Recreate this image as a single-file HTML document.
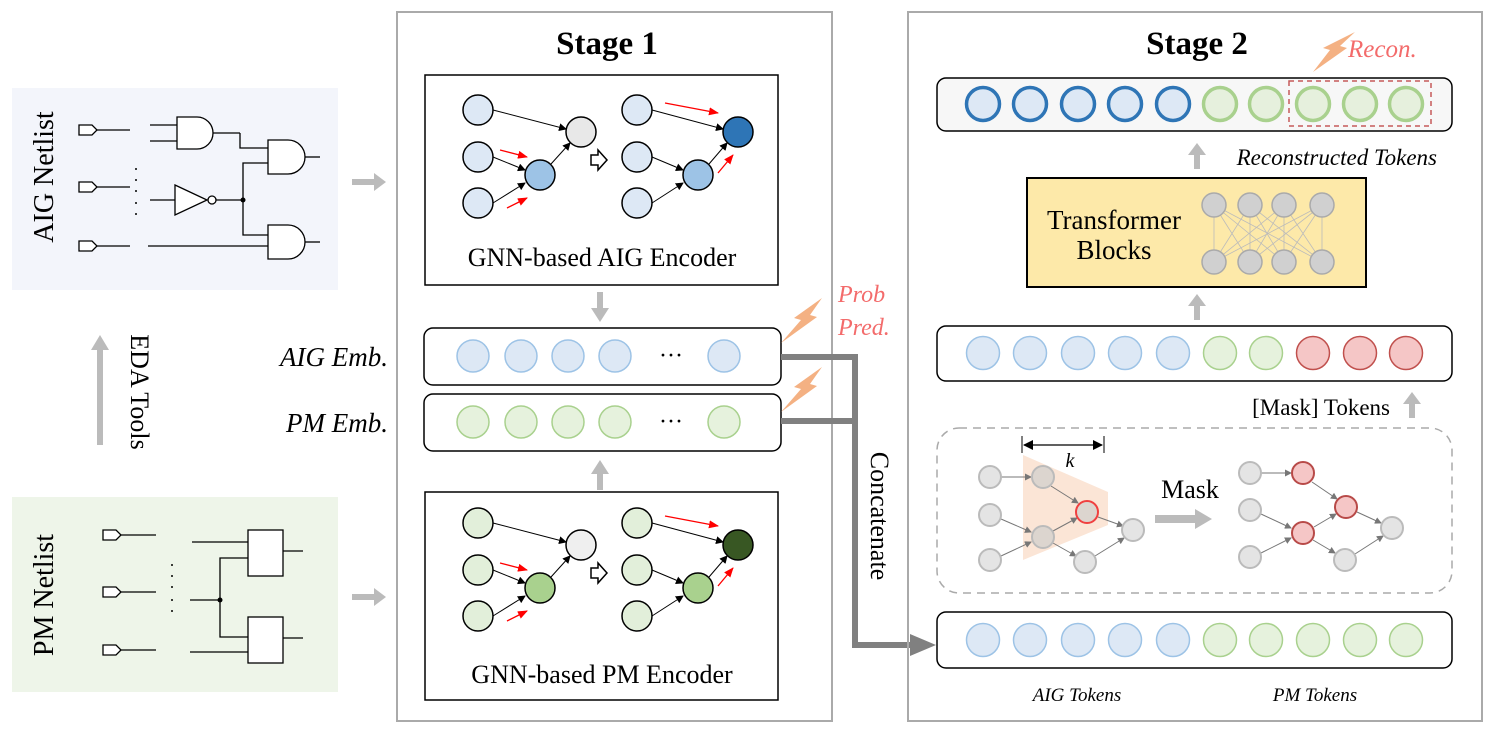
<!DOCTYPE html>
<html><head><meta charset="utf-8"><style>html,body{margin:0;padding:0;background:#fff}svg{display:block}text{font-family:"Liberation Serif",serif}</style></head>
<body>
<svg width="1494" height="734" viewBox="0 0 1494 734" xmlns="http://www.w3.org/2000/svg">
<defs>
<marker id="ab" markerWidth="8" markerHeight="8" refX="7" refY="4" orient="auto" markerUnits="userSpaceOnUse"><path d="M0,0 L8,4 L0,8 z" fill="#000"/></marker>
<marker id="ar" markerWidth="10" markerHeight="8" refX="9" refY="4" orient="auto" markerUnits="userSpaceOnUse"><path d="M0,0 L10,4 L0,8 z" fill="#f00"/></marker>
<marker id="ag" markerWidth="7" markerHeight="7" refX="6" refY="3.5" orient="auto" markerUnits="userSpaceOnUse"><path d="M0,0 L7,3.5 L0,7 z" fill="#777"/></marker>
<marker id="ak" markerWidth="10" markerHeight="10" refX="9" refY="5" orient="auto" markerUnits="userSpaceOnUse"><path d="M0,0 L10,5 L0,10 z" fill="#000"/></marker>
<marker id="ak2" markerWidth="10" markerHeight="10" refX="1" refY="5" orient="auto" markerUnits="userSpaceOnUse"><path d="M10,0 L0,5 L10,10 z" fill="#000"/></marker>
</defs>

<rect x="12" y="88" width="326" height="202" fill="#f3f5fb"/>
<rect x="12" y="497" width="326" height="195" fill="#eef5e9"/>
<text transform="translate(53,177) rotate(-90)" font-size="28" text-anchor="middle">AIG Netlist</text>
<text transform="translate(53,595) rotate(-90)" font-size="28" text-anchor="middle">PM Netlist</text>

<g stroke="#000" stroke-width="1.3" fill="#fff">
<path d="M79,125 h13 l5,5 l-5,5 h-13 z"/><line x1="97" y1="130" x2="130" y2="130"/>
<path d="M79,182 h13 l5,5 l-5,5 h-13 z"/><line x1="97" y1="187" x2="130" y2="187"/>
<path d="M79,241 h13 l5,5 l-5,5 h-13 z"/><line x1="97" y1="246" x2="130" y2="246"/>
<line x1="150" y1="125" x2="177" y2="125"/><line x1="150" y1="141" x2="177" y2="141"/>
<path d="M177,117 h20 a16,16 0 0 1 0,32 h-20 z"/>
<line x1="213" y1="133" x2="240" y2="133"/><polyline points="240,133 240,148 268,148" fill="none"/>
<line x1="150" y1="200" x2="175" y2="200"/>
<path d="M175,185 L207,200 L175,215 z"/><circle cx="212" cy="200" r="4"/>
<line x1="216" y1="200" x2="243" y2="200"/>
<polyline points="268,163 243,163 243,235 268,235" fill="none"/>
<path d="M268,140 h20 a17,17 0 0 1 0,34 h-20 z"/><line x1="305" y1="157" x2="320" y2="157"/>
<line x1="148" y1="246" x2="268" y2="246"/>
<path d="M268,225 h20 a17,17 0 0 1 0,34 h-20 z"/><line x1="305" y1="242" x2="320" y2="242"/>
<path d="M103,530 h13 l5,5 l-5,5 h-13 z"/><line x1="121" y1="535" x2="156" y2="535"/>
<path d="M103,587 h13 l5,5 l-5,5 h-13 z"/><line x1="121" y1="592" x2="156" y2="592"/>
<path d="M103,645 h13 l5,5 l-5,5 h-13 z"/><line x1="121" y1="650" x2="156" y2="650"/>
<line x1="192" y1="542" x2="248" y2="542"/>
<polyline points="248,558 220,558 220,637 248,637" fill="none"/>
<line x1="190" y1="600" x2="220" y2="600"/>
<line x1="190" y1="652" x2="248" y2="652"/>
<rect x="248" y="530" width="35" height="46"/><line x1="283" y1="551" x2="303" y2="551"/>
<rect x="248" y="617" width="35" height="46"/><line x1="283" y1="638" x2="303" y2="638"/>
</g>
<circle cx="243" cy="200" r="2.5"/><circle cx="220" cy="600" r="2.5"/>
<g fill="#000">
<circle cx="136" cy="169" r="1"/><circle cx="136" cy="180" r="1"/><circle cx="136" cy="191" r="1"/><circle cx="136" cy="203" r="1"/><circle cx="136" cy="214" r="1"/>
<circle cx="172" cy="565" r="1"/><circle cx="172" cy="576" r="1"/><circle cx="172" cy="587" r="1"/><circle cx="172" cy="600" r="1"/><circle cx="172" cy="611" r="1"/>
</g>

<g fill="#bbb">
<path d="M352,179 h22 v-6 l12,9 l-12,9 v-6 h-22 z"/>
<path d="M352,594 h22 v-6 l12,9 l-12,9 v-6 h-22 z"/>
<path d="M97,445 v-95 h-6 l9,-15 l9,15 h-6 v95 z"/>
</g>
<text transform="translate(131,392) rotate(90)" font-size="26" text-anchor="middle">EDA Tools</text>

<rect x="397" y="12" width="435" height="709" fill="none" stroke="#aaa" stroke-width="2"/>
<text x="607" y="54" font-size="33" font-weight="bold" text-anchor="middle">Stage 1</text>
<rect x="425" y="75" width="353" height="210" fill="#fff" stroke="#000" stroke-width="1.5"/>
<rect x="425" y="492" width="353" height="208" fill="#fff" stroke="#000" stroke-width="1.5"/>
<text x="602" y="266" font-size="26" text-anchor="middle">GNN-based AIG Encoder</text>
<text x="602" y="683" font-size="26" text-anchor="middle">GNN-based PM Encoder</text>

<g stroke="#000" stroke-width="1">
<line x1="493" y1="110" x2="566" y2="129" marker-end="url(#ab)"/>
<line x1="493" y1="157" x2="525" y2="170" marker-end="url(#ab)"/>
<line x1="493" y1="203" x2="525" y2="183" marker-end="url(#ab)"/>
<line x1="551" y1="164" x2="570" y2="143" marker-end="url(#ab)"/>
<line x1="652" y1="110" x2="723" y2="129" marker-end="url(#ab)"/>
<line x1="652" y1="157" x2="683" y2="170" marker-end="url(#ab)"/>
<line x1="652" y1="203" x2="683" y2="183" marker-end="url(#ab)"/>
<line x1="709" y1="164" x2="727" y2="143" marker-end="url(#ab)"/>
</g>
<g stroke="#000" stroke-width="1.5">
<circle cx="478" cy="110" r="15" fill="#dde8f5"/><circle cx="478" cy="157" r="15" fill="#dde8f5"/><circle cx="478" cy="203" r="15" fill="#dde8f5"/>
<circle cx="581" cy="132" r="15" fill="#e8e8e8"/><circle cx="540" cy="175" r="15" fill="#9dc3e6"/>
<circle cx="637" cy="110" r="15" fill="#dde8f5"/><circle cx="637" cy="157" r="15" fill="#dde8f5"/><circle cx="637" cy="203" r="15" fill="#dde8f5"/>
<circle cx="738" cy="132" r="15" fill="#2e75b6"/><circle cx="698" cy="175" r="15" fill="#9dc3e6"/>
<path d="M591,155 h7 v-5 l9,10 l-9,10 v-5 h-7 z" fill="#fff"/>
</g>
<g stroke="#f00" stroke-width="1.3">
<line x1="500" y1="150" x2="527" y2="157" marker-end="url(#ar)"/>
<line x1="507" y1="208" x2="527" y2="198" marker-end="url(#ar)"/>
<line x1="665" y1="103" x2="718" y2="113" marker-end="url(#ar)"/>
<line x1="718" y1="173" x2="733" y2="155" marker-end="url(#ar)"/>
</g>

<g stroke="#000" stroke-width="1">
<line x1="493" y1="523" x2="566" y2="542" marker-end="url(#ab)"/>
<line x1="493" y1="570" x2="525" y2="583" marker-end="url(#ab)"/>
<line x1="493" y1="616" x2="525" y2="596" marker-end="url(#ab)"/>
<line x1="551" y1="577" x2="570" y2="556" marker-end="url(#ab)"/>
<line x1="652" y1="523" x2="723" y2="542" marker-end="url(#ab)"/>
<line x1="652" y1="570" x2="683" y2="583" marker-end="url(#ab)"/>
<line x1="652" y1="616" x2="683" y2="596" marker-end="url(#ab)"/>
<line x1="709" y1="577" x2="727" y2="556" marker-end="url(#ab)"/>
</g>
<g stroke="#000" stroke-width="1.5">
<circle cx="478" cy="523" r="15" fill="#e2efda"/><circle cx="478" cy="570" r="15" fill="#e2efda"/><circle cx="478" cy="616" r="15" fill="#e2efda"/>
<circle cx="581" cy="545" r="15" fill="#efefef"/><circle cx="540" cy="588" r="15" fill="#a9d18e"/>
<circle cx="637" cy="523" r="15" fill="#e2efda"/><circle cx="637" cy="570" r="15" fill="#e2efda"/><circle cx="637" cy="616" r="15" fill="#e2efda"/>
<circle cx="738" cy="545" r="15" fill="#385723"/><circle cx="698" cy="588" r="15" fill="#a9d18e"/>
<path d="M591,568 h7 v-5 l9,10 l-9,10 v-5 h-7 z" fill="#fff"/>
</g>
<g stroke="#f00" stroke-width="1.3">
<line x1="500" y1="563" x2="527" y2="570" marker-end="url(#ar)"/>
<line x1="507" y1="621" x2="527" y2="611" marker-end="url(#ar)"/>
<line x1="665" y1="516" x2="718" y2="526" marker-end="url(#ar)"/>
<line x1="718" y1="586" x2="733" y2="568" marker-end="url(#ar)"/>
</g>

<g fill="#bbb">
<path d="M597,292 h6 v16 h6 l-9,14 l-9,-14 h6 z"/>
<path d="M597,490 h6 v-16 h6 l-9,-14 l-9,14 h6 z"/>
</g>

<rect x="424" y="328" width="357" height="57" rx="9" fill="#fff" stroke="#000" stroke-width="1.5"/>
<rect x="424" y="394" width="357" height="57" rx="9" fill="#fff" stroke="#000" stroke-width="1.5"/>
<g stroke="#9dc3e6" stroke-width="1.5" fill="#dde8f5">
<circle cx="473" cy="356" r="16"/><circle cx="521" cy="356" r="16"/><circle cx="568" cy="356" r="16"/><circle cx="615" cy="356" r="16"/><circle cx="724" cy="356" r="16"/>
</g>
<g stroke="#a9d18e" stroke-width="1.5" fill="#e6f2dd">
<circle cx="473" cy="422" r="16"/><circle cx="521" cy="422" r="16"/><circle cx="568" cy="422" r="16"/><circle cx="615" cy="422" r="16"/><circle cx="724" cy="422" r="16"/>
</g>
<text x="671" y="363" font-size="24" text-anchor="middle">···</text>
<text x="671" y="429" font-size="24" text-anchor="middle">···</text>
<text x="388" y="366" font-size="27" font-style="italic" text-anchor="end">AIG Emb.</text>
<text x="388" y="432" font-size="27" font-style="italic" text-anchor="end">PM Emb.</text>

<g fill="#f4b183">
<path d="M781,343 L801,320 L794,318 L822,298 L810,315 L817,317 z"/>
<path d="M781,412 L801,389 L794,387 L822,367 L810,384 L817,386 z"/>
<path d="M1313,72 L1330,50 L1323,48 L1355,32 L1340,46 L1347,48 z"/>
</g>
<text x="838" y="302" font-size="24" font-style="italic" fill="#f36b6b">Prob</text>
<text x="838" y="335" font-size="24" font-style="italic" fill="#f36b6b">Pred.</text>

<g stroke="#808080" stroke-width="6" fill="none">
<polyline points="781,357 855,357 855,645 912,645"/>
<line x1="781" y1="421" x2="855" y2="421"/>
</g>
<path d="M910,634 L936,645 L910,656 z" fill="#808080"/>
<text transform="translate(871,516) rotate(90)" font-size="26" text-anchor="middle">Concatenate</text>

<rect x="908" y="12" width="574" height="709" fill="none" stroke="#aaa" stroke-width="2"/>
<text x="1197" y="54" font-size="33" font-weight="bold" text-anchor="middle">Stage 2</text>
<text x="1348" y="57" font-size="25" font-style="italic" fill="#f36b6b">Recon.</text>

<rect x="937" y="78" width="515" height="53" rx="9" fill="#f7f7f7" stroke="#000" stroke-width="1.5"/>
<g stroke="#2e75b6" stroke-width="3.5" fill="#dde8f5">
<circle cx="983" cy="104" r="16.5"/><circle cx="1030" cy="104" r="16.5"/><circle cx="1078" cy="104" r="16.5"/><circle cx="1125" cy="104" r="16.5"/><circle cx="1173" cy="104" r="16.5"/>
</g>
<g stroke="#a9d18e" stroke-width="3.5" fill="#e6f0dd">
<circle cx="1220" cy="104" r="16.5"/><circle cx="1266" cy="104" r="16.5"/><circle cx="1313" cy="104" r="16.5"/><circle cx="1360" cy="104" r="16.5"/><circle cx="1406" cy="104" r="16.5"/>
</g>
<rect x="1289" y="81" width="142" height="45" fill="none" stroke="#c55a5a" stroke-width="1.5" stroke-dasharray="5,4"/>
<text x="1437" y="165" font-size="23" font-style="italic" text-anchor="end">Reconstructed Tokens</text>

<g fill="#bbb">
<path d="M1194,169 v-14 h-6 l9,-12 l9,12 h-6 v14 z"/>
<path d="M1194,320 v-14 h-6 l9,-12 l9,12 h-6 v14 z"/>
<path d="M1409,418 v-14 h-6 l9,-12 l9,12 h-6 v14 z"/>
</g>

<rect x="1027" y="178" width="339" height="109" fill="#fde9a9" stroke="#000" stroke-width="2"/>
<text x="1114" y="229" font-size="27" text-anchor="middle">Transformer</text>
<text x="1114" y="259" font-size="27" text-anchor="middle">Blocks</text>
<g stroke="#bbb" stroke-width="0.8">
<line x1="1214" y1="205" x2="1214" y2="262"/><line x1="1214" y1="205" x2="1250" y2="262"/><line x1="1214" y1="205" x2="1284" y2="262"/><line x1="1214" y1="205" x2="1322" y2="262"/>
<line x1="1250" y1="205" x2="1214" y2="262"/><line x1="1250" y1="205" x2="1250" y2="262"/><line x1="1250" y1="205" x2="1284" y2="262"/><line x1="1250" y1="205" x2="1322" y2="262"/>
<line x1="1284" y1="205" x2="1214" y2="262"/><line x1="1284" y1="205" x2="1250" y2="262"/><line x1="1284" y1="205" x2="1284" y2="262"/><line x1="1284" y1="205" x2="1322" y2="262"/>
<line x1="1322" y1="205" x2="1214" y2="262"/><line x1="1322" y1="205" x2="1250" y2="262"/><line x1="1322" y1="205" x2="1284" y2="262"/><line x1="1322" y1="205" x2="1322" y2="262"/>
</g>
<g fill="#d0d0d0" stroke="#aaa" stroke-width="1.5">
<circle cx="1214" cy="205" r="12"/><circle cx="1250" cy="205" r="12"/><circle cx="1284" cy="205" r="12"/><circle cx="1322" cy="205" r="12"/>
<circle cx="1214" cy="262" r="12"/><circle cx="1250" cy="262" r="12"/><circle cx="1284" cy="262" r="12"/><circle cx="1322" cy="262" r="12"/>
</g>

<rect x="937" y="326" width="515" height="55" rx="9" fill="#fff" stroke="#000" stroke-width="1.5"/>
<g stroke="#9dc3e6" stroke-width="1.5" fill="#dde8f5">
<circle cx="983" cy="353" r="16.5"/><circle cx="1030" cy="353" r="16.5"/><circle cx="1078" cy="353" r="16.5"/><circle cx="1125" cy="353" r="16.5"/><circle cx="1173" cy="353" r="16.5"/>
</g>
<g stroke="#a9d18e" stroke-width="1.5" fill="#e6f2dd">
<circle cx="1220" cy="353" r="16.5"/><circle cx="1266" cy="353" r="16.5"/>
</g>
<g stroke="#c0504d" stroke-width="1.5" fill="#f5c6c6">
<circle cx="1313" cy="353" r="16.5"/><circle cx="1360" cy="353" r="16.5"/><circle cx="1406" cy="353" r="16.5"/>
</g>
<text x="1390" y="415" font-size="23" text-anchor="end">[Mask] Tokens</text>

<rect x="937" y="428" width="515" height="165" rx="22" fill="none" stroke="#aaa" stroke-width="1.5" stroke-dasharray="8,6"/>
<path d="M1023,455 L1108,492 L1108,525 L1023,560 z" fill="#fbe5d6"/>
<line x1="1022" y1="436" x2="1022" y2="453" stroke="#000"/><line x1="1104" y1="436" x2="1104" y2="453" stroke="#000"/>
<line x1="1024" y1="445" x2="1102" y2="445" stroke="#000" stroke-width="1.3" marker-end="url(#ak)" marker-start="url(#ak2)"/>
<text x="1070" y="467" font-size="20" font-style="italic" text-anchor="middle">k</text>
<g stroke="#777" stroke-width="1">
<line x1="1001" y1="477" x2="1031" y2="477" marker-end="url(#ag)"/>
<line x1="1001" y1="519" x2="1031" y2="532" marker-end="url(#ag)"/>
<line x1="1001" y1="556" x2="1031" y2="542" marker-end="url(#ag)"/>
<line x1="1051" y1="486" x2="1078" y2="503" marker-end="url(#ag)"/>
<line x1="1053" y1="531" x2="1077" y2="518" marker-end="url(#ag)"/>
<line x1="1053" y1="543" x2="1076" y2="556" marker-end="url(#ag)"/>
<line x1="1098" y1="517" x2="1123" y2="526" marker-end="url(#ag)"/>
<line x1="1095" y1="556" x2="1124" y2="538" marker-end="url(#ag)"/>
<line x1="1261" y1="473" x2="1291" y2="473" marker-end="url(#ag)"/>
<line x1="1261" y1="514" x2="1291" y2="528" marker-end="url(#ag)"/>
<line x1="1261" y1="553" x2="1291" y2="538" marker-end="url(#ag)"/>
<line x1="1312" y1="482" x2="1337" y2="499" marker-end="url(#ag)"/>
<line x1="1314" y1="527" x2="1336" y2="514" marker-end="url(#ag)"/>
<line x1="1313" y1="540" x2="1335" y2="553" marker-end="url(#ag)"/>
<line x1="1357" y1="512" x2="1381" y2="523" marker-end="url(#ag)"/>
<line x1="1355" y1="554" x2="1383" y2="536" marker-end="url(#ag)"/>
</g>
<g fill="#e4e4e4" stroke="#bbb" stroke-width="2">
<circle cx="990" cy="477" r="11"/><circle cx="990" cy="515" r="11"/><circle cx="990" cy="560" r="11"/>
<circle cx="1043" cy="477" r="11" fill="#dcd5cf"/><circle cx="1043" cy="537" r="11" fill="#dcd5cf"/>
<circle cx="1085" cy="562" r="11"/><circle cx="1133" cy="530" r="11"/>
<circle cx="1087" cy="512" r="11" fill="#dcd5cf" stroke="#f04040"/>
<circle cx="1250" cy="473" r="11"/><circle cx="1250" cy="510" r="11"/><circle cx="1250" cy="557" r="11"/>
<circle cx="1345" cy="560" r="11"/><circle cx="1392" cy="528" r="11"/>
<circle cx="1303" cy="473" r="11" fill="#f5c6c6" stroke="#b84a48"/>
<circle cx="1303" cy="533" r="11" fill="#f5c6c6" stroke="#b84a48"/>
<circle cx="1346" cy="507" r="11" fill="#f5c6c6" stroke="#b84a48"/>
</g>
<text x="1190" y="498" font-size="26" text-anchor="middle">Mask</text>
<path d="M1155,515 h40 v-6 l17,10 l-17,10 v-6 h-40 z" fill="#bbb"/>

<rect x="937" y="612" width="515" height="56" rx="9" fill="#fff" stroke="#000" stroke-width="1.5"/>
<g stroke="#9dc3e6" stroke-width="1.5" fill="#dde8f5">
<circle cx="983" cy="640" r="16.5"/><circle cx="1030" cy="640" r="16.5"/><circle cx="1078" cy="640" r="16.5"/><circle cx="1125" cy="640" r="16.5"/><circle cx="1173" cy="640" r="16.5"/>
</g>
<g stroke="#a9d18e" stroke-width="1.5" fill="#e6f2dd">
<circle cx="1220" cy="640" r="16.5"/><circle cx="1266" cy="640" r="16.5"/><circle cx="1313" cy="640" r="16.5"/><circle cx="1360" cy="640" r="16.5"/><circle cx="1406" cy="640" r="16.5"/>
</g>
<text x="1077" y="701" font-size="19" font-style="italic" text-anchor="middle">AIG Tokens</text>
<text x="1315" y="701" font-size="19" font-style="italic" text-anchor="middle">PM Tokens</text>
</svg>
</body></html>
